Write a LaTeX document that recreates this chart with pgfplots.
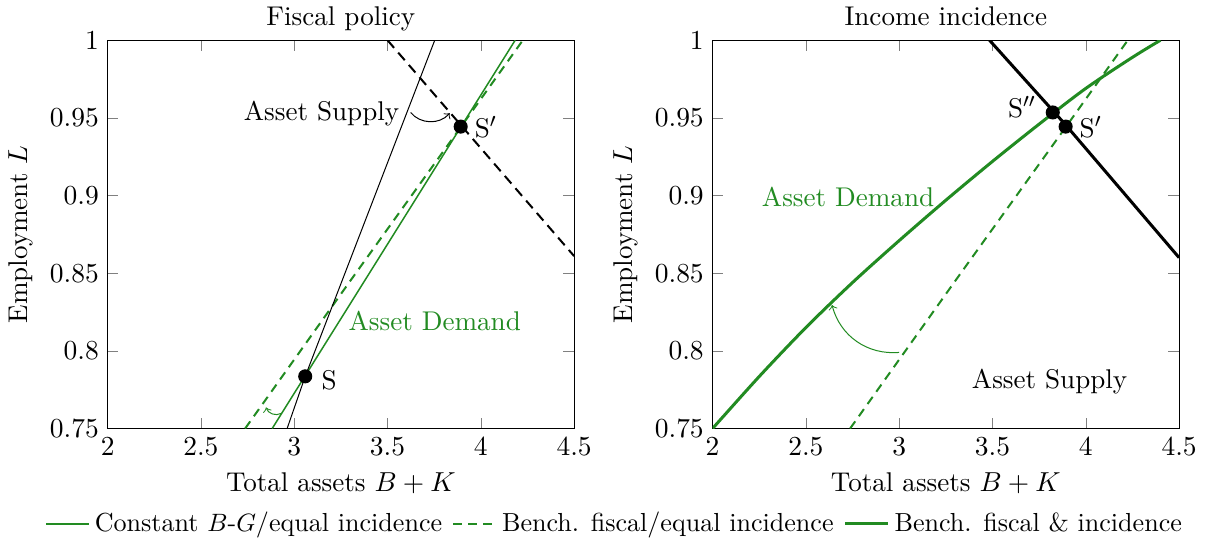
\documentclass[border=0pt]{standalone}
\usepackage{pgfplots}
\pgfplotsset{compat=1.18}
\definecolor{fgreen}{RGB}{34,139,34}

\pgfplotsset{
  panel/.style={
    scale only axis,
    width=186pt, height=154.8pt,
    xmin=2, xmax=4.5, ymin=0.75, ymax=1,
    xtick={2,2.5,3,3.5,4,4.5},
    ytick={0.75,0.8,0.85,0.9,0.95,1},
    yticklabel style={/pgf/number format/fixed},
    xlabel={Total assets $B+K$},
    ylabel={Employment $L$},
    font=\fontsize{10.8}{13}\selectfont,
    title style={text height=1.6ex, text depth=0.3ex, yshift=-5pt},
    clip=true,
  },
}

\begin{document}
\begin{tikzpicture}
% left panel
\begin{axis}[panel, title={Fiscal policy},
  legend columns=3,
  legend style={at={(1.09,-0.245)}, anchor=center, draw=none,
    font=\fontsize{10.4}{12}\selectfont,
    /tikz/every even column/.append style={column sep=2pt}},
  legend cell align=left]
\addlegendimage{color=fgreen, solid, line width=0.7pt}
\addlegendentry{Constant $B$-$G$/equal incidence}
\addlegendimage{color=fgreen, thick, dash pattern=on 3.5pt off 2.5pt}
\addlegendentry{Bench. fiscal/equal incidence}
\addlegendimage{color=fgreen, very thick}
\addlegendentry{Bench. fiscal \& incidence}
\addplot[fgreen, semithick, forget plot] coordinates {(2.882,0.75) (3.059,0.784) (3.892,0.944) (4.184,1.0)};
\addplot[fgreen, thick, dash pattern=on 3.5pt off 2.5pt, forget plot] coordinates {(2.737,0.75) (3.3,0.845) (3.892,0.944) (4.225,1.0)};
\addplot[black, forget plot] coordinates {(2.962,0.75) (3.059,0.7836) (3.753,1.0)};
\addplot[black, thick, dash pattern=on 4pt off 2.5pt, forget plot] coordinates {(3.5,1.0) (3.892,0.9455) (4.5,0.861)};
\addplot[only marks, mark=*, mark size=2.6pt, black, forget plot] coordinates {(3.059,0.7836) (3.892,0.9444)};
\node[anchor=west] at (axis cs:3.10,0.781) {S};
\node[anchor=west] at (axis cs:3.92,0.944) {S$'$};
\node[anchor=east] at (axis cs:3.61,0.953) {Asset Supply};
\node[fgreen] at (axis cs:3.753,0.819) {Asset Demand};
\draw[->, black] (axis cs:3.624,0.9535) to[bend right=50] (axis cs:3.833,0.953);
\draw[->, fgreen] (axis cs:2.930,0.7597) to[bend left=50] (axis cs:2.849,0.7636);
\end{axis}

% right panel
\begin{axis}[panel, title={Income incidence}, at={(241.2pt,0pt)}]
\addplot[fgreen, thick, dash pattern=on 3.5pt off 2.5pt] coordinates {(2.737,0.75) (3.3,0.845) (3.892,0.944) (4.225,1.0)};
\addplot[fgreen, very thick, smooth] coordinates {(2,0.75) (2.25,0.7835) (2.5,0.815) (2.75,0.844) (3,0.871) (3.25,0.897) (3.5,0.922) (3.75,0.946) (4,0.969) (4.25,0.989) (4.4,1.0)};
\addplot[black, very thick] coordinates {(3.484,1.0) (3.892,0.9455) (4.5,0.860)};
\addplot[only marks, mark=*, mark size=2.6pt, black] coordinates {(3.823,0.9535) (3.892,0.9444)};
\node[anchor=east] at (axis cs:3.78,0.957) {S$''$};
\node[anchor=west] at (axis cs:3.92,0.944) {S$'$};
\node[fgreen] at (axis cs:2.726,0.899) {Asset Demand};
\node at (axis cs:3.806,0.780) {Asset Supply};
\draw[->, fgreen] (axis cs:3.0,0.799) to[bend left=40] (axis cs:2.64,0.8295);
\end{axis}
\end{tikzpicture}
\end{document}
